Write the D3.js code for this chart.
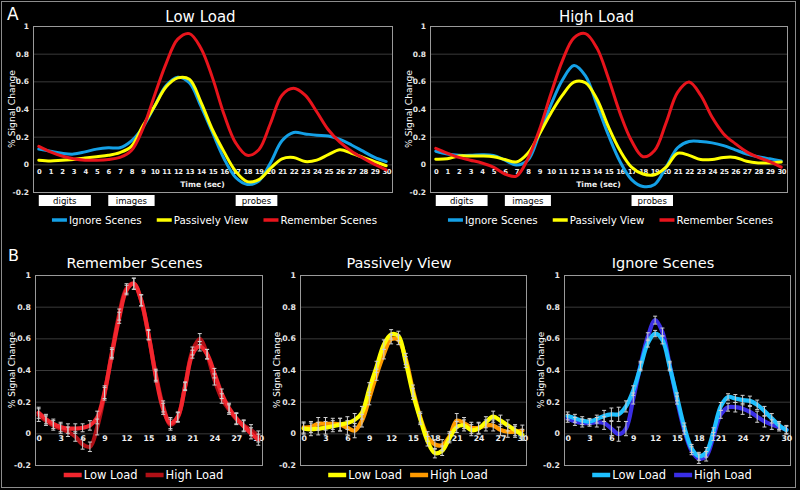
<!DOCTYPE html>
<html><head><meta charset="utf-8">
<script src="https://cdn.jsdelivr.net/npm/d3@7"></script>
<style>
body{margin:0;background:#000;}
svg{display:block;font-family:"DejaVu Sans",Verdana,sans-serif;}
</style>
</head><body>
<svg id="c" width="800" height="490"></svg>
<script>
// ---------- DATA ----------
const timeSec = [0,1,2,3,4,5,6,7,8,9,10,11,12,13,14,15,16,17,18,19,20,21,22,23,24,25,26,27,28,29,30];
const yTicks = [-0.2,0,0.2,0.4,0.6,0.8,1];
const bTimeTicks = [0,3,6,9,12,15,18,21,24,27,30];

const ignoreLow  = [0.11,0.095,0.08,0.074,0.09,0.11,0.12,0.12,0.17,0.27,0.42,0.57,0.63,0.59,0.42,0.23,0.04,-0.095,-0.145,-0.12,0.01,0.17,0.23,0.22,0.21,0.205,0.18,0.14,0.095,0.05,0.02];
const ignoreHigh = [0.095,0.075,0.065,0.065,0.07,0.065,0.03,-0.005,0.03,0.22,0.43,0.61,0.715,0.64,0.43,0.21,0.02,-0.11,-0.16,-0.145,-0.02,0.12,0.165,0.165,0.155,0.135,0.105,0.075,0.055,0.04,0.025];
const passLow    = [0.03,0.025,0.03,0.035,0.045,0.055,0.065,0.085,0.13,0.28,0.42,0.56,0.625,0.615,0.45,0.25,0.09,-0.05,-0.125,-0.11,-0.03,0.04,0.05,0.02,0.03,0.07,0.105,0.08,0.05,0.02,-0.01];
const passHigh   = [0.037,0.04,0.06,0.06,0.06,0.055,0.035,0.017,0.08,0.22,0.37,0.5,0.595,0.59,0.47,0.27,0.1,-0.02,-0.07,-0.075,-0.02,0.08,0.065,0.035,0.035,0.05,0.05,0.022,0.01,0.01,0.017];
const rememberLow  = [0.13,0.09,0.06,0.04,0.03,0.03,0.035,0.05,0.1,0.26,0.5,0.73,0.905,0.945,0.84,0.625,0.36,0.155,0.065,0.105,0.295,0.5,0.55,0.5,0.38,0.25,0.16,0.095,0.045,0.0,-0.04];
const rememberHigh = [0.115,0.08,0.05,0.03,0.01,-0.02,-0.07,-0.085,0.04,0.25,0.51,0.75,0.915,0.945,0.84,0.62,0.37,0.17,0.055,0.1,0.3,0.52,0.595,0.5,0.34,0.22,0.15,0.09,0.05,0.02,-0.02];

// standard errors (B panels)
const ignoreLowErr   = [0.025,0.025,0.025,0.02,0.025,0.035,0.04,0.045,0.035,0.03,0.025,0.025,0.02,0.025,0.025,0.025,0.025,0.025,0.025,0.03,0.025,0.025,0.02,0.025,0.03,0.03,0.03,0.03,0.03,0.025,0.025];
const ignoreHighErr  = [0.025,0.025,0.025,0.02,0.03,0.04,0.045,0.045,0.045,0.035,0.025,0.025,0.025,0.025,0.025,0.025,0.025,0.025,0.03,0.03,0.025,0.025,0.025,0.03,0.035,0.035,0.035,0.035,0.03,0.025,0.025];
const passLowErr     = [0.035,0.04,0.04,0.04,0.035,0.04,0.04,0.04,0.04,0.04,0.035,0.03,0.03,0.03,0.035,0.035,0.035,0.03,0.03,0.03,0.03,0.035,0.035,0.035,0.035,0.035,0.035,0.035,0.035,0.035,0.035];
const passHighErr    = [0.035,0.035,0.04,0.04,0.035,0.04,0.045,0.045,0.04,0.04,0.035,0.03,0.03,0.03,0.035,0.035,0.035,0.03,0.03,0.035,0.03,0.045,0.035,0.035,0.035,0.035,0.035,0.035,0.035,0.035,0.035];
const rememberLowErr  = [0.035,0.03,0.03,0.03,0.03,0.03,0.025,0.03,0.04,0.04,0.03,0.035,0.03,0.035,0.035,0.03,0.035,0.035,0.035,0.03,0.025,0.025,0.03,0.03,0.03,0.03,0.03,0.035,0.035,0.035,0.035];
const rememberHighErr = [0.04,0.03,0.03,0.03,0.03,0.03,0.03,0.03,0.05,0.04,0.03,0.035,0.03,0.035,0.035,0.03,0.035,0.035,0.035,0.03,0.025,0.025,0.035,0.03,0.035,0.03,0.03,0.035,0.035,0.035,0.035];

const conditionNames = ["Ignore Scenes","Passively View","Remember Scenes"];
const loadNames = ["Low Load","High Load"];
const eventNames = ["digits","images","probes"];
const eventStart = [0,6,17];
const eventEnd = [4.5,10,20.6];

// ---------- DRAW ----------
const svg = d3.select("#c");
svg.append("rect").attr("width",800).attr("height",490).attr("fill","#000");
svg.append("rect").attr("x",1.5).attr("y",1.5).attr("width",794).attr("height",486)
  .attr("fill","none").attr("stroke","#8c8c8c").attr("stroke-width",1);

const fmt = d => String(d);

function panel(cfg){
  const g = svg.append("g");
  const x = d3.scalePoint().domain(timeSec).range([cfg.x0,cfg.x1]).padding(0.5);
  const xLin = d3.scaleLinear().domain([timeSec[0],timeSec[timeSec.length-1]])
    .range([x(timeSec[0]),x(timeSec[timeSec.length-1])]);
  const y = d3.scaleLinear().domain([-0.2,1]).range([cfg.y1,cfg.y0]);
  const w = cfg.x1-cfg.x0;
  g.append("g").attr("transform",`translate(${cfg.x0},0)`)
    .call(d3.axisLeft(y).tickValues(yTicks).tickSize(-w).tickFormat(""))
    .call(a=>a.select(".domain").remove())
    .call(a=>a.selectAll("line").attr("stroke","#3a3a3a").attr("stroke-width",1));
  g.append("g").attr("transform",`translate(${cfg.x0-3},0)`)
    .call(d3.axisLeft(y).tickValues(yTicks).tickSize(0).tickFormat(fmt).tickPadding(1))
    .call(a=>a.select(".domain").remove())
    .call(a=>a.selectAll("text").attr("fill","#e6e6e6").attr("font-size",cfg.tickSize)
       .attr("font-weight","bold").attr("font-family","DejaVu Sans"));
  g.append("rect").attr("x",cfg.x0+0.5).attr("y",cfg.y0+0.5).attr("width",w).attr("height",cfg.y1-cfg.y0)
    .attr("fill","none").attr("stroke","#9a9a9a").attr("stroke-width",1);
  g.append("g").attr("transform",`translate(0,${y(0)})`)
    .call(d3.axisBottom(x).tickValues(cfg.xTicks).tickSize(0).tickPadding(cfg.xPad))
    .call(a=>a.select(".domain").remove())
    .call(a=>a.selectAll("text").attr("fill","#f0f0f0").attr("font-size",cfg.xTickSize)
       .attr("font-weight","bold").attr("font-family","DejaVu Sans").attr("letter-spacing",cfg.xLS||0));
  g.append("text").attr("x",(cfg.x0+cfg.x1)/2+cfg.titleDx).attr("y",cfg.titleY)
    .attr("text-anchor","middle").attr("fill","#fff").attr("font-size",cfg.titleSize).text(cfg.title);
  g.append("text").attr("transform",`translate(${cfg.yTitleX},${(cfg.y0+cfg.y1)/2}) rotate(-90)`)
    .attr("text-anchor","middle").attr("dy","0.35em").attr("fill","#fff").attr("font-size",cfg.yTitleSize)
    .text("% Signal Change");

  const line = d3.line().x((d,i)=>x(timeSec[i])).y(d=>y(d)).curve(d3.curveCatmullRom.alpha(0.5));
  cfg.series.forEach(s=>{
    g.append("path").datum(s.values).attr("d",line).attr("fill","none")
      .attr("stroke",s.color).attr("stroke-width",cfg.lineW).attr("stroke-linejoin","round").attr("stroke-linecap","round");
  });
  if(cfg.errors){
    cfg.series.forEach(s=>{
      const eg = g.append("g").attr("stroke","#d0d0d0").attr("stroke-width",1);
      s.values.forEach((v,i)=>{
        const cx = x(timeSec[i]), e = s.err[i];
        eg.append("line").attr("x1",cx).attr("x2",cx).attr("y1",y(v-e)).attr("y2",y(v+e));
        eg.append("line").attr("x1",cx-2).attr("x2",cx+2).attr("y1",y(v-e)).attr("y2",y(v-e));
        eg.append("line").attr("x1",cx-2).attr("x2",cx+2).attr("y1",y(v+e)).attr("y2",y(v+e));
      });
    });
  }
  return {g,x,xLin,y};
}

function legend(items, cx, cy, opts){
  const lg = svg.append("g");
  let xpos = 0;
  items.forEach((it,i)=>{
    lg.append("line").attr("x1",xpos).attr("x2",xpos+opts.lineLen).attr("y1",cy).attr("y2",cy)
      .attr("stroke",it.color).attr("stroke-width",opts.lineW);
    xpos += opts.lineLen+2;
    const t = lg.append("text").attr("x",xpos).attr("y",cy).attr("dy","0.35em")
      .attr("fill","#fff").attr("font-size",opts.fontSize).text(it.label);
    xpos += t.node().getComputedTextLength() + (i<items.length-1?opts.gap:0);
  });
  lg.attr("transform",`translate(${cx - xpos/2},0)`);
}

const cBlue="#14a0e6", cYellow="#ffff00", cRed="#e8141c";

// ----- Panel A -----
const topCfgs = [
  {x0:33,x1:392,title:loadNames[0], series:[
    {values:ignoreLow,color:cBlue},{values:passLow,color:cYellow},{values:rememberLow,color:cRed}]},
  {x0:430,x1:787,title:loadNames[1], series:[
    {values:ignoreHigh,color:cBlue},{values:passHigh,color:cYellow},{values:rememberHigh,color:cRed}]}
];
topCfgs.forEach(c=>{
  const p = panel({x0:c.x0,x1:c.x1,y0:26,y1:192,xTicks:timeSec,tickSize:7.5,xTickSize:6.8,xLS:-0.4,xPad:5,
    title:c.title,titleY:22,titleDx:-12,titleSize:15,yTitleX:c.x0-21,yTitleSize:9.2,
    lineW:3,series:c.series});
  p.g.append("text").attr("x",(c.x0+c.x1)/2-10).attr("y",187).attr("text-anchor","middle")
    .attr("fill","#f0f0f0").attr("font-size",7.6).attr("font-weight","bold").text("Time (sec)");
  eventNames.forEach((nm,i)=>{
    const xa = p.xLin(eventStart[i]), xb = p.xLin(eventEnd[i]);
    p.g.append("rect").attr("x",xa).attr("y",195).attr("width",xb-xa).attr("height",11).attr("fill","#fff");
    p.g.append("text").attr("x",(xa+xb)/2).attr("y",200.5).attr("dy","0.35em").attr("text-anchor","middle")
      .attr("fill","#000").attr("font-size",8.6).text(nm);
  });
  legend([{label:conditionNames[0],color:cBlue},{label:conditionNames[1],color:cYellow},{label:conditionNames[2],color:cRed}],
    (c.x0+c.x1)/2+2, 220, {lineLen:15,lineW:3.5,fontSize:10.3,gap:15});
});
svg.append("text").attr("x",7).attr("y",20).attr("fill","#fff").attr("font-size",17).text("A");

// ----- Panel B -----
const bCfgs = [
  {x0:35,x1:262,title:conditionNames[2],low:rememberLow,high:rememberHigh,lowErr:rememberLowErr,highErr:rememberHighErr,cl:"#f2262e",ch:"#b01016"},
  {x0:300,x1:526,title:conditionNames[1],low:passLow,high:passHigh,lowErr:passLowErr,highErr:passHighErr,cl:"#ffff00",ch:"#ff9a00"},
  {x0:564,x1:790,title:conditionNames[0],low:ignoreLow,high:ignoreHigh,lowErr:ignoreLowErr,highErr:ignoreHighErr,cl:"#1ec0ff",ch:"#3a2ee6"}
];
bCfgs.forEach(c=>{
  panel({x0:c.x0,x1:c.x1,y0:275,y1:465,xTicks:bTimeTicks,tickSize:7.8,xTickSize:7.8,xPad:2,
    title:c.title,titleY:268,titleDx:-14,titleSize:14.5,yTitleX:c.x0-23,yTitleSize:9,
    lineW:4.2,errors:true,series:[
      {values:c.high,err:c.highErr,color:c.ch},{values:c.low,err:c.lowErr,color:c.cl}]});
  legend([{label:loadNames[0],color:c.cl},{label:loadNames[1],color:c.ch}],
    (c.x0+c.x1)/2-5, 475, {lineLen:18,lineW:4.5,fontSize:11.5,gap:8});
});
svg.append("text").attr("x",8).attr("y",261).attr("fill","#fff").attr("font-size",16).text("B");
</script>
</body></html>
